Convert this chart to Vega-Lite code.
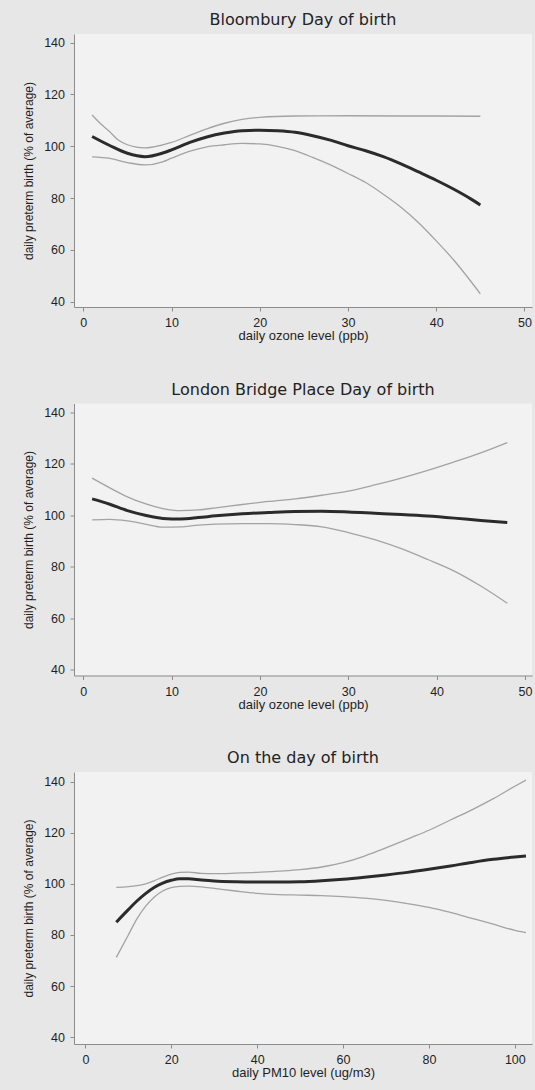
{
  "$schema": "https://vega.github.io/schema/vega-lite/v6.json",
  "background": "#e7e7e7",
  "padding": {"left": 22, "top": 12, "right": 4, "bottom": 14},
  "bounds": "flush",
  "spacing": 96.5,
  "config": {
    "view": {"fill": "#f2f2f2", "stroke": null},
    "axis": {
      "domainColor": "#8c8c8c",
      "tickColor": "#8c8c8c",
      "tickSize": 4,
      "grid": false,
      "labelFont": "Liberation Sans",
      "labelFontSize": 12.5,
      "labelColor": "#1f1f1f",
      "labelFlush": false,
      "labelOverlap": false,
      "titleFont": "Liberation Sans",
      "titleFontWeight": "normal",
      "titleColor": "#1f1f1f"
    },
    "axisX": {"labelPadding": 5.5, "titlePadding": 0.5, "titleFontSize": 13},
    "axisY": {"labelPadding": 5.5, "titlePadding": 8, "titleFontSize": 12},
    "title": {
      "font": "DejaVu Sans",
      "fontSize": 16,
      "fontWeight": "normal",
      "color": "#222222",
      "anchor": "middle",
      "baseline": "alphabetic",
      "offset": 6,
      "frame": "group"
    }
  },
  "datasets": {
    "p1": [
      {"s": "est", "x": 1, "y": 103.8}, {"s": "est", "x": 3, "y": 100.3}, {"s": "est", "x": 5, "y": 97.3}, {"s": "est", "x": 7, "y": 96.0}, {"s": "est", "x": 9, "y": 97.4}, {"s": "est", "x": 10, "y": 98.6}, {"s": "est", "x": 12, "y": 101.4}, {"s": "est", "x": 14, "y": 103.6}, {"s": "est", "x": 16, "y": 105.1}, {"s": "est", "x": 18, "y": 106.0}, {"s": "est", "x": 20, "y": 106.2}, {"s": "est", "x": 22, "y": 106.0}, {"s": "est", "x": 24, "y": 105.4}, {"s": "est", "x": 26, "y": 104.1}, {"s": "est", "x": 28, "y": 102.4}, {"s": "est", "x": 30, "y": 100.2}, {"s": "est", "x": 32, "y": 98.3}, {"s": "est", "x": 34, "y": 96.0}, {"s": "est", "x": 36, "y": 93.2}, {"s": "est", "x": 38, "y": 90.1}, {"s": "est", "x": 40, "y": 86.9}, {"s": "est", "x": 42, "y": 83.4}, {"s": "est", "x": 44, "y": 79.5}, {"s": "est", "x": 45, "y": 77.3},
      {"s": "hi", "x": 1, "y": 112.1}, {"s": "hi", "x": 2, "y": 108.6}, {"s": "hi", "x": 3, "y": 105.6}, {"s": "hi", "x": 4, "y": 102.3}, {"s": "hi", "x": 5, "y": 100.6}, {"s": "hi", "x": 6, "y": 99.7}, {"s": "hi", "x": 7, "y": 99.4}, {"s": "hi", "x": 8, "y": 99.8}, {"s": "hi", "x": 10, "y": 101.5}, {"s": "hi", "x": 12, "y": 104.1}, {"s": "hi", "x": 14, "y": 106.7}, {"s": "hi", "x": 16, "y": 108.9}, {"s": "hi", "x": 18, "y": 110.4}, {"s": "hi", "x": 20, "y": 111.2}, {"s": "hi", "x": 24, "y": 111.7}, {"s": "hi", "x": 30, "y": 111.8}, {"s": "hi", "x": 36, "y": 111.7}, {"s": "hi", "x": 40, "y": 111.7}, {"s": "hi", "x": 45, "y": 111.6},
      {"s": "lo", "x": 1, "y": 95.9}, {"s": "lo", "x": 3, "y": 95.3}, {"s": "lo", "x": 5, "y": 93.7}, {"s": "lo", "x": 7, "y": 92.8}, {"s": "lo", "x": 9, "y": 94.0}, {"s": "lo", "x": 10, "y": 95.4}, {"s": "lo", "x": 12, "y": 98.0}, {"s": "lo", "x": 14, "y": 99.8}, {"s": "lo", "x": 16, "y": 100.6}, {"s": "lo", "x": 18, "y": 101.1}, {"s": "lo", "x": 20, "y": 100.9}, {"s": "lo", "x": 22, "y": 100.0}, {"s": "lo", "x": 24, "y": 98.3}, {"s": "lo", "x": 26, "y": 95.7}, {"s": "lo", "x": 28, "y": 92.8}, {"s": "lo", "x": 30, "y": 89.5}, {"s": "lo", "x": 32, "y": 86.0}, {"s": "lo", "x": 34, "y": 81.5}, {"s": "lo", "x": 36, "y": 76.5}, {"s": "lo", "x": 38, "y": 70.5}, {"s": "lo", "x": 40, "y": 63.5}, {"s": "lo", "x": 42, "y": 56.0}, {"s": "lo", "x": 44, "y": 47.5}, {"s": "lo", "x": 45, "y": 43.0}
    ],
    "p2": [
      {"s": "est", "x": 1, "y": 106.4}, {"s": "est", "x": 3, "y": 104.3}, {"s": "est", "x": 5, "y": 101.8}, {"s": "est", "x": 7, "y": 100.0}, {"s": "est", "x": 9, "y": 98.8}, {"s": "est", "x": 11, "y": 98.6}, {"s": "est", "x": 13, "y": 99.1}, {"s": "est", "x": 15, "y": 99.8}, {"s": "est", "x": 18, "y": 100.6}, {"s": "est", "x": 21, "y": 101.1}, {"s": "est", "x": 24, "y": 101.5}, {"s": "est", "x": 27, "y": 101.6}, {"s": "est", "x": 30, "y": 101.3}, {"s": "est", "x": 33, "y": 100.8}, {"s": "est", "x": 36, "y": 100.3}, {"s": "est", "x": 39, "y": 99.7}, {"s": "est", "x": 42, "y": 98.9}, {"s": "est", "x": 45, "y": 98.0}, {"s": "est", "x": 48, "y": 97.2},
      {"s": "hi", "x": 1, "y": 114.5}, {"s": "hi", "x": 3, "y": 110.7}, {"s": "hi", "x": 5, "y": 107.2}, {"s": "hi", "x": 7, "y": 104.5}, {"s": "hi", "x": 9, "y": 102.6}, {"s": "hi", "x": 11, "y": 101.8}, {"s": "hi", "x": 13, "y": 102.1}, {"s": "hi", "x": 15, "y": 102.9}, {"s": "hi", "x": 18, "y": 104.2}, {"s": "hi", "x": 21, "y": 105.4}, {"s": "hi", "x": 24, "y": 106.4}, {"s": "hi", "x": 27, "y": 107.8}, {"s": "hi", "x": 30, "y": 109.4}, {"s": "hi", "x": 33, "y": 111.8}, {"s": "hi", "x": 36, "y": 114.5}, {"s": "hi", "x": 39, "y": 117.5}, {"s": "hi", "x": 42, "y": 120.8}, {"s": "hi", "x": 45, "y": 124.3}, {"s": "hi", "x": 48, "y": 128.3},
      {"s": "lo", "x": 1, "y": 98.2}, {"s": "lo", "x": 3, "y": 98.4}, {"s": "lo", "x": 5, "y": 97.8}, {"s": "lo", "x": 7, "y": 96.6}, {"s": "lo", "x": 9, "y": 95.4}, {"s": "lo", "x": 11, "y": 95.5}, {"s": "lo", "x": 13, "y": 96.2}, {"s": "lo", "x": 15, "y": 96.6}, {"s": "lo", "x": 18, "y": 96.8}, {"s": "lo", "x": 21, "y": 96.8}, {"s": "lo", "x": 24, "y": 96.4}, {"s": "lo", "x": 27, "y": 95.5}, {"s": "lo", "x": 30, "y": 93.3}, {"s": "lo", "x": 33, "y": 90.5}, {"s": "lo", "x": 36, "y": 87.0}, {"s": "lo", "x": 39, "y": 82.8}, {"s": "lo", "x": 42, "y": 78.3}, {"s": "lo", "x": 45, "y": 72.5}, {"s": "lo", "x": 48, "y": 65.8}
    ],
    "p3": [
      {"s": "est", "x": 7.2, "y": 85.0}, {"s": "est", "x": 10, "y": 89.9}, {"s": "est", "x": 12, "y": 93.3}, {"s": "est", "x": 14, "y": 96.2}, {"s": "est", "x": 16, "y": 98.6}, {"s": "est", "x": 18, "y": 100.3}, {"s": "est", "x": 20, "y": 101.4}, {"s": "est", "x": 22, "y": 102.0}, {"s": "est", "x": 24, "y": 102.0}, {"s": "est", "x": 27, "y": 101.5}, {"s": "est", "x": 30, "y": 101.1}, {"s": "est", "x": 35, "y": 100.8}, {"s": "est", "x": 40, "y": 100.7}, {"s": "est", "x": 45, "y": 100.7}, {"s": "est", "x": 50, "y": 100.8}, {"s": "est", "x": 55, "y": 101.2}, {"s": "est", "x": 60, "y": 101.8}, {"s": "est", "x": 65, "y": 102.6}, {"s": "est", "x": 70, "y": 103.5}, {"s": "est", "x": 75, "y": 104.5}, {"s": "est", "x": 80, "y": 105.7}, {"s": "est", "x": 85, "y": 107.0}, {"s": "est", "x": 90, "y": 108.4}, {"s": "est", "x": 95, "y": 109.6}, {"s": "est", "x": 100, "y": 110.5}, {"s": "est", "x": 102.6, "y": 110.9},
      {"s": "hi", "x": 7.2, "y": 98.6}, {"s": "hi", "x": 10, "y": 98.9}, {"s": "hi", "x": 12, "y": 99.3}, {"s": "hi", "x": 14, "y": 100.0}, {"s": "hi", "x": 16, "y": 101.2}, {"s": "hi", "x": 18, "y": 102.6}, {"s": "hi", "x": 20, "y": 103.8}, {"s": "hi", "x": 22, "y": 104.5}, {"s": "hi", "x": 24, "y": 104.6}, {"s": "hi", "x": 27, "y": 104.1}, {"s": "hi", "x": 30, "y": 104.0}, {"s": "hi", "x": 35, "y": 104.2}, {"s": "hi", "x": 40, "y": 104.5}, {"s": "hi", "x": 45, "y": 105.0}, {"s": "hi", "x": 50, "y": 105.6}, {"s": "hi", "x": 55, "y": 106.6}, {"s": "hi", "x": 60, "y": 108.3}, {"s": "hi", "x": 65, "y": 110.9}, {"s": "hi", "x": 68, "y": 112.8}, {"s": "hi", "x": 72, "y": 115.5}, {"s": "hi", "x": 76, "y": 118.2}, {"s": "hi", "x": 80, "y": 121.0}, {"s": "hi", "x": 85, "y": 125.0}, {"s": "hi", "x": 90, "y": 129.0}, {"s": "hi", "x": 95, "y": 133.4}, {"s": "hi", "x": 100, "y": 138.2}, {"s": "hi", "x": 102.6, "y": 140.6},
      {"s": "lo", "x": 7.2, "y": 71.2}, {"s": "lo", "x": 10, "y": 80.0}, {"s": "lo", "x": 12, "y": 86.3}, {"s": "lo", "x": 14, "y": 91.2}, {"s": "lo", "x": 16, "y": 94.8}, {"s": "lo", "x": 18, "y": 97.2}, {"s": "lo", "x": 20, "y": 98.5}, {"s": "lo", "x": 22, "y": 99.0}, {"s": "lo", "x": 24, "y": 99.1}, {"s": "lo", "x": 27, "y": 98.8}, {"s": "lo", "x": 30, "y": 98.2}, {"s": "lo", "x": 35, "y": 97.2}, {"s": "lo", "x": 40, "y": 96.3}, {"s": "lo", "x": 45, "y": 95.8}, {"s": "lo", "x": 50, "y": 95.6}, {"s": "lo", "x": 55, "y": 95.4}, {"s": "lo", "x": 60, "y": 95.0}, {"s": "lo", "x": 65, "y": 94.4}, {"s": "lo", "x": 70, "y": 93.5}, {"s": "lo", "x": 75, "y": 92.3}, {"s": "lo", "x": 80, "y": 90.8}, {"s": "lo", "x": 85, "y": 88.8}, {"s": "lo", "x": 90, "y": 86.5}, {"s": "lo", "x": 95, "y": 84.2}, {"s": "lo", "x": 100, "y": 81.8}, {"s": "lo", "x": 102.6, "y": 80.9}
    ]
  },
  "vconcat": [
    {
      "title": "Bloombury  Day of birth",
      "width": 458,
      "height": 273,
      "data": {"name": "p1"},
      "encoding": {
        "x": {"field": "x", "type": "quantitative", "scale": {"domain": [-1.05, 50.85], "nice": false, "zero": false}, "axis": {"values": [0, 10, 20, 30, 40, 50], "title": "daily ozone level (ppb)"}},
        "y": {"field": "y", "type": "quantitative", "scale": {"domain": [37.95, 143.36], "nice": false, "zero": false}, "axis": {"values": [40, 60, 80, 100, 120, 140], "title": "daily preterm birth (% of average)"}}
      },
      "layer": [
        {"transform": [{"filter": "datum.s !== 'est'"}], "mark": {"type": "line", "color": "#a3a3a3", "strokeWidth": 1.3, "interpolate": "monotone"}, "encoding": {"detail": {"field": "s"}}},
        {"transform": [{"filter": "datum.s === 'est'"}], "mark": {"type": "line", "color": "#2b2b2b", "strokeWidth": 3, "interpolate": "monotone"}, "encoding": {}}
      ]
    },
    {
      "title": "London Bridge Place  Day of birth",
      "width": 458,
      "height": 272,
      "data": {"name": "p2"},
      "encoding": {
        "x": {"field": "x", "type": "quantitative", "scale": {"domain": [-1.05, 50.8], "nice": false, "zero": false}, "axis": {"values": [0, 10, 20, 30, 40, 50], "title": "daily ozone level (ppb)"}},
        "y": {"field": "y", "type": "quantitative", "scale": {"domain": [37.67, 143.5], "nice": false, "zero": false}, "axis": {"values": [40, 60, 80, 100, 120, 140], "title": "daily preterm birth (% of average)"}}
      },
      "layer": [
        {"transform": [{"filter": "datum.s !== 'est'"}], "mark": {"type": "line", "color": "#a3a3a3", "strokeWidth": 1.3, "interpolate": "monotone"}, "encoding": {"detail": {"field": "s"}}},
        {"transform": [{"filter": "datum.s === 'est'"}], "mark": {"type": "line", "color": "#2b2b2b", "strokeWidth": 3, "interpolate": "monotone"}, "encoding": {}}
      ]
    },
    {
      "title": "On the day of birth",
      "width": 458,
      "height": 272,
      "data": {"name": "p3"},
      "encoding": {
        "x": {"field": "x", "type": "quantitative", "scale": {"domain": [-2.65, 104], "nice": false, "zero": false}, "axis": {"values": [0, 20, 40, 60, 80, 100], "title": "daily PM10 level (ug/m3)"}},
        "y": {"field": "y", "type": "quantitative", "scale": {"domain": [37.3, 143.8], "nice": false, "zero": false}, "axis": {"values": [40, 60, 80, 100, 120, 140], "title": "daily preterm birth (% of average)"}}
      },
      "layer": [
        {"transform": [{"filter": "datum.s !== 'est'"}], "mark": {"type": "line", "color": "#a3a3a3", "strokeWidth": 1.3, "interpolate": "monotone"}, "encoding": {"detail": {"field": "s"}}},
        {"transform": [{"filter": "datum.s === 'est'"}], "mark": {"type": "line", "color": "#2b2b2b", "strokeWidth": 3, "interpolate": "monotone"}, "encoding": {}}
      ]
    }
  ]
}
